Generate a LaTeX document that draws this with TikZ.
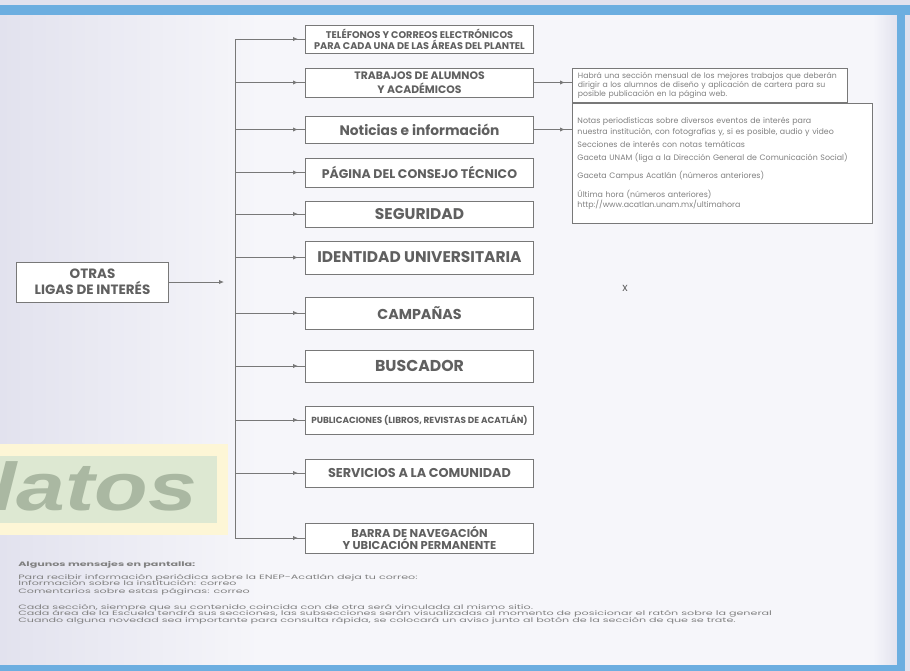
\documentclass[tikz,border=0pt]{standalone}
\usepackage{fontspec}
\setmainfont{Poppins}
\newfontfamily\wmfont{Liberation Sans}
\usetikzlibrary{arrows.meta,decorations.markings}
\definecolor{frameblue}{RGB}{108,174,224}
\definecolor{pagebg}{RGB}{226,226,238}
\definecolor{panelbg}{RGB}{246,246,250}
\definecolor{boxline}{RGB}{120,120,120}
\definecolor{labeltext}{RGB}{96,96,96}
\definecolor{notetext}{RGB}{128,128,128}
\definecolor{wmyellow}{RGB}{253,246,214}
\definecolor{wmgreen}{RGB}{221,232,210}
\definecolor{wmtext}{RGB}{170,184,162}
\newcommand{\wide}[1]{\scalebox{1.76}[1]{#1}}

\begin{document}
\begin{tikzpicture}[x=0.025cm, y=-0.025cm,
  >=Latex,
  menu/.style={rectangle, draw=boxline, line width=0.7pt, fill=white,
               minimum width=5.7cm, inner sep=1pt, align=center,
               text=labeltext, anchor=west},
  sub/.style={rectangle, draw=boxline, line width=0.7pt, fill=white,
              inner sep=3pt, align=left, anchor=north west, text=notetext,
              font=\fontsize{5.6}{7.8}\selectfont},
  wire/.style={draw=boxline, line width=0.6pt},
  link/.style={wire, postaction={decorate},
               decoration={markings, mark=at position -5pt with {\arrow{Latex[length=3.5pt,width=3pt]}}}},
  linkend/.style={wire, -{Latex[length=3.5pt,width=3pt]}},
  note/.style={anchor=base west, inner sep=0pt, text=notetext,
               font=\fontsize{4.5}{5}\selectfont}]
\useasboundingbox (0,0) rectangle (910,671);
% page and blue frame
\fill[pagebg] (0,0) rectangle (910,671);
\shade[left color=pagebg, right color=panelbg] (0,15) rectangle (260,665);
\fill[panelbg] (259,15) rectangle (873,665);
\shade[left color=panelbg, right color=pagebg] (873,15) rectangle (897,665);
\fill[frameblue] (0,5) rectangle (910,15);
\fill[frameblue] (897,5) rectangle (905,671);
\fill[frameblue] (0,665) rectangle (905,671);
% watermark
\fill[wmyellow] (0,444) rectangle (228,535);
\fill[wmgreen] (0,456) rectangle (217,523);
\begin{scope}
  \clip (0,444) rectangle (228,535);
  \node[anchor=base west, inner sep=0pt, text=wmtext,
        font=\wmfont\bfseries\itshape\fontsize{48}{48}\selectfont] (wm) at (-8,510) {\scalebox{1.3}[1]{latos}};
\end{scope}
% root
\node[menu, anchor=center, minimum width=3.775cm, minimum height=1cm,
      font=\bfseries\fontsize{9.6}{11.4}\selectfont] (ligas) at (92.5,282) {OTRAS\\LIGAS DE INTERÉS};
\coordinate (ligasend) at (224,284);
\coordinate (trunk) at (235,0);
% menu boxes
\node[menu, minimum height=0.7cm, font=\bfseries\fontsize{6.9}{7.8}\selectfont] (tel) at (305,39)
  {TELÉFONOS Y CORREOS ELECTRÓNICOS\\PARA CADA UNA DE LAS ÁREAS DEL PLANTEL};
\node[menu, minimum height=0.725cm, font=\bfseries\fontsize{7.7}{10}\selectfont] (trab) at (305,82.5)
  {TRABAJOS DE ALUMNOS\\Y ACADÉMICOS};
\node[menu, minimum height=0.675cm, font=\bfseries\fontsize{9.8}{11}\selectfont] (noti) at (305,129.5)
  {Noticias e información};
\node[menu, minimum height=0.725cm, font=\bfseries\fontsize{8.9}{10}\selectfont] (pag) at (305,172.5)
  {PÁGINA DEL CONSEJO TÉCNICO};
\node[menu, minimum height=0.65cm, font=\bfseries\fontsize{11}{12}\selectfont] (seg) at (305,214)
  {SEGURIDAD};
\node[menu, minimum height=0.825cm, font=\bfseries\fontsize{11}{12}\selectfont] (ident) at (305,257.5)
  {IDENTIDAD UNIVERSITARIA};
\node[menu, minimum height=0.8cm, font=\bfseries\fontsize{10.2}{12}\selectfont] (camp) at (305,313)
  {CAMPAÑAS};
\node[menu, minimum height=0.8cm, font=\bfseries\fontsize{11.2}{12}\selectfont] (busc) at (305,366)
  {BUSCADOR};
\node[menu, minimum height=0.7cm, font=\bfseries\fontsize{6.3}{7}\selectfont] (publ) at (305,420)
  {PUBLICACIONES (LIBROS, REVISTAS DE ACATLÁN)};
\node[menu, minimum height=0.7cm, font=\bfseries\fontsize{9.1}{10}\selectfont] (serv) at (305,473)
  {SERVICIOS A LA COMUNIDAD};
\node[menu, minimum height=0.75cm, font=\bfseries\fontsize{8.1}{8.2}\selectfont] (barra) at (305,538)
  {BARRA DE NAVEGACIÓN\\Y UBICACIÓN PERMANENTE};
% detail boxes
\node[sub, minimum width=6.875cm, minimum height=0.8cm, text width=6.6cm,
      font=\fontsize{5.5}{6.2}\selectfont] (trabdesc) at (572,68)
  {Habrá una sección mensual de los mejores trabajos que deberán\\
   dirigir a los alumnos de diseño y aplicación de cartera para su\\
   posible publicación en la página web.};
\node[sub, minimum width=7.5cm, minimum height=3cm, text width=7.25cm] (notidesc) at (572,103)
  {Notas periodísticas sobre diversos eventos de interés para\\
   nuestra institución, con fotografías y, si es posible, audio y video\\[1.5pt]
   Secciones de interés con notas temáticas\\[1.5pt]
   Gaceta UNAM (liga a la Dirección General de Comunicación Social)\\[5.5pt]
   Gaceta Campus Acatlán (números anteriores)\\[5.5pt]
   Última hora (números anteriores)\\[-0.5pt]
   http://www.acatlan.unam.mx/ultimahora};
\node[text=labeltext, font=\fontsize{8}{8}\selectfont] (mark) at (625,288) {x};
% connectors
\draw[linkend] (ligas.east) -- (ligas.east -| ligasend);
\draw[wire] (tel.west -| trunk) -- (barra.west -| trunk);
\foreach \b in {tel,trab,noti,pag,seg,ident,camp,busc,publ,serv,barra}
  \draw[link] (\b.west -| trunk) -- (\b.west);
\draw[link] (trab.east) -- (trab.east -| trabdesc.west);
\draw[link] (noti.east) -- (noti.east -| notidesc.west);
% screen messages
\node[note, font=\bfseries\fontsize{4.5}{5}\selectfont] (msghead) at (18,566) {\wide{Algunos mensajes en pantalla:}};
\node[note] (msg1) at (18,579) {\wide{Para recibir información periódica sobre la ENEP-Acatlán deja tu correo:}};
\node[note] (msg2) at (18,585) {\wide{Información sobre la institución: correo}};
\node[note] (msg3) at (18,593) {\wide{Comentarios sobre estas páginas: correo}};
\node[note] (rule1) at (18,609) {\wide{Cada sección, siempre que su contenido coincida con de otra será vinculada al mismo sitio.}};
\node[note] (rule2) at (18,615) {\wide{Cada área de la Escuela tendrá sus secciones, las subsecciones serán visualizadas al momento de posicionar el ratón sobre la general}};
\node[note] (rule3) at (18,622) {\wide{Cuando alguna novedad sea importante para consulta rápida, se colocará un aviso junto al botón de la sección de que se trate.}};
\end{tikzpicture}
\end{document}
